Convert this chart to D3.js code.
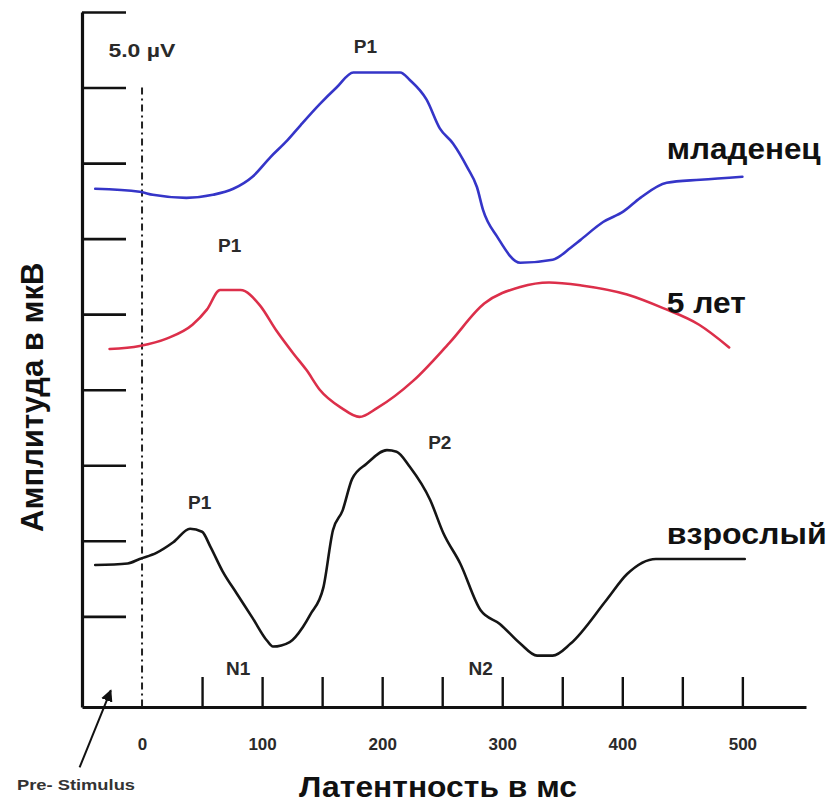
<!DOCTYPE html>
<html>
<head>
<meta charset="utf-8">
<script src="https://cdn.jsdelivr.net/npm/d3@7"></script>
<style>
  html, body { margin: 0; padding: 0; background: #fff; }
  svg { display: block; }
  text { font-family: "Liberation Sans", Arial, sans-serif; font-weight: bold; }
</style>
</head>
<body>
<div id="chart"></div>
<script>
// Latency in ms, amplitude in µV (each y tick = 5 µV, curves are offset vertically)
const infantT = [-39, -2, 9, 37, 59, 76, 92, 107, 121, 132, 148, 162, 176, 215, 223, 237, 248, 259, 271, 279, 284, 296, 315, 342, 357, 365, 384, 401, 415, 437, 465, 500];
const infantV = [28.3, 28.1, 27.9, 27.7, 27.9, 28.3, 29.1, 30.4, 31.5, 32.5, 33.9, 35.0, 36.0, 36.0, 35.5, 34.2, 32.3, 31.3, 29.7, 28.4, 26.9, 25.1, 23.4, 23.6, 24.4, 24.9, 26.1, 26.8, 27.7, 28.7, 28.9, 29.1];

const childT = [-27, -2, 21, 42, 54, 65, 82, 98, 112, 126, 137, 148, 166, 181, 196, 226, 256, 285, 315, 339, 366, 404, 434, 464, 489];
const childV = [17.7, 17.9, 18.4, 19.3, 20.3, 21.6, 21.6, 20.6, 18.9, 17.4, 16.3, 15.0, 13.8, 13.2, 13.8, 15.6, 18.1, 20.7, 21.8, 22.1, 21.9, 21.3, 20.4, 19.3, 17.8];

const adultT = [-39, -12, -2, 12, 26, 40, 50, 57, 67, 79, 92, 104, 109, 123, 134, 140, 151, 159, 167, 175, 187, 204, 212, 223, 240, 251, 265, 282, 298, 315, 329, 342, 357, 387, 404, 428, 502];
const adultV = [3.4, 3.5, 3.8, 4.2, 4.9, 5.8, 5.6, 4.6, 3.0, 1.5, -0.1, -1.6, -2.0, -1.7, -0.7, 0.1, 1.9, 5.7, 7.0, 9.1, 10.1, 11.0, 10.9, 9.9, 7.7, 5.5, 3.5, 0.4, -0.5, -1.8, -2.6, -2.6, -1.8, 1.1, 2.8, 3.8, 3.8];

const seriesNames = ["младенец", "5 лет", "взрослый"];
const seriesColors = ["#3535c8", "#dc2f4a", "#151515"];
const seriesLabelT = [437, 437, 437];
const seriesLabelV = [30.3, 20.1, 4.8];
const seriesLabelWidth = [154, 79, 160];

// Peak component labels
const peakText = ["P1", "P1", "P1", "N1", "P2", "N2"];
const peakT = [186, 73, 48, 80, 248, 282];
const peakV = [37.3, 24.1, 7.1, -3.9, 11.1, -3.9];

const labelTicks = [0, 100, 200, 300, 400, 500];
const minorTicks = [50, 100, 150, 200, 250, 300, 350, 400, 450, 500];
const ampTicks = [0, 5, 10, 15, 20, 25, 30, 35, 40];

const width = 830, height = 806;
const svg = d3.select("#chart").append("svg")
  .attr("width", width).attr("height", height);

const x = d3.scaleLinear().domain([-50, 553]).range([82, 806]);
const y = d3.scaleLinear().domain([-6, 40]).range([707, 12]);

// Vertical amplitude axis with ticks pointing into the plot
svg.append("g")
  .attr("transform", `translate(${x(-50)},0)`)
  .call(d3.axisRight(y).tickValues(ampTicks).tickSize(44).tickSizeOuter(0).tickFormat(""))
  .call(g => g.select(".domain").attr("stroke", "#111").attr("stroke-width", 3.2))
  .call(g => g.selectAll(".tick line").attr("stroke", "#111").attr("stroke-width", 2.6));

// Horizontal latency axis with upward ticks
svg.append("g")
  .attr("transform", `translate(0,${y(-6)})`)
  .call(d3.axisTop(x).tickValues(minorTicks).tickSize(30).tickSizeOuter(0).tickFormat(""))
  .call(g => g.select(".domain").attr("stroke", "#111").attr("stroke-width", 3.2))
  .call(g => g.selectAll(".tick line").attr("stroke", "#111").attr("stroke-width", 2.4));

// Latency labels
svg.append("g")
  .attr("transform", `translate(0,${y(-6)})`)
  .call(d3.axisBottom(x).tickValues(labelTicks).tickSize(0).tickPadding(31))
  .call(g => g.select(".domain").remove())
  .call(g => g.selectAll("text")
    .attr("fill", "#2a2a2a").attr("font-size", 17)
    .attr("font-family", "'Liberation Sans', Arial, sans-serif").attr("font-weight", "bold"));

// Stimulus onset marker
svg.append("line")
  .attr("x1", x(0)).attr("x2", x(0))
  .attr("y1", y(35)).attr("y2", y(-6))
  .attr("stroke", "#222").attr("stroke-width", 2)
  .attr("stroke-dasharray", "7,4,2,4");

// Waveforms
const line = d3.line()
  .x(d => x(d[0])).y(d => y(d[1]))
  .curve(d3.curveMonotoneX);

[[infantT, infantV], [childT, childV], [adultT, adultV]].forEach(([ts, vs], i) => {
  svg.append("path")
    .datum(ts.map((t, k) => [t, vs[k]]))
    .attr("fill", "none")
    .attr("stroke", seriesColors[i])
    .attr("stroke-width", 2.6)
    .attr("stroke-linejoin", "round")
    .attr("stroke-linecap", "round")
    .attr("d", line);
});

// Series names
svg.selectAll("text.series")
  .data(seriesNames)
  .join("text")
  .attr("class", "series")
  .attr("x", (d, i) => x(seriesLabelT[i]))
  .attr("y", (d, i) => y(seriesLabelV[i]))
  .attr("font-size", 30)
  .attr("textLength", (d, i) => seriesLabelWidth[i])
  .attr("lengthAdjust", "spacingAndGlyphs")
  .attr("fill", "#111")
  .text(d => d);

// Component labels
svg.selectAll("text.peak")
  .data(peakText)
  .join("text")
  .attr("class", "peak")
  .attr("x", (d, i) => x(peakT[i]))
  .attr("y", (d, i) => y(peakV[i]))
  .attr("text-anchor", "middle")
  .attr("font-size", 19)
  .attr("fill", "#2a2a2a")
  .text(d => d);

// Scale bar label
svg.append("text")
  .attr("x", x(-28)).attr("y", y(37.0))
  .attr("font-size", 19)
  .attr("textLength", 67)
  .attr("lengthAdjust", "spacingAndGlyphs")
  .attr("fill", "#2a2a2a")
  .text("5.0 \u00B5V");

// Axis titles
svg.append("text")
  .attr("x", 299).attr("y", 797)
  .attr("font-size", 29)
  .attr("textLength", 278)
  .attr("lengthAdjust", "spacingAndGlyphs")
  .attr("fill", "#111")
  .text("Латентность в мс");

svg.append("text")
  .attr("transform", `translate(43,${y(14.5)}) rotate(-90)`)
  .attr("text-anchor", "middle")
  .attr("font-size", 31)
  .attr("fill", "#111")
  .text("Амплитуда в мкВ");

// Pre-stimulus pointer
svg.append("defs").append("marker")
  .attr("id", "head")
  .attr("viewBox", "0 0 10 10")
  .attr("refX", 9).attr("refY", 5)
  .attr("markerWidth", 6).attr("markerHeight", 6)
  .attr("orient", "auto")
  .append("path").attr("d", "M0,0L10,5L0,10Z").attr("fill", "#111");

svg.append("line")
  .attr("x1", x(-52)).attr("y1", y(-10))
  .attr("x2", x(-26)).attr("y2", y(-4.9))
  .attr("stroke", "#111").attr("stroke-width", 2)
  .attr("marker-end", "url(#head)");

svg.append("text")
  .attr("x", 17).attr("y", 790)
  .attr("font-size", 15)
  .attr("textLength", 118)
  .attr("lengthAdjust", "spacingAndGlyphs")
  .attr("fill", "#333")
  .text("Pre- Stimulus");
</script>
</body>
</html>
